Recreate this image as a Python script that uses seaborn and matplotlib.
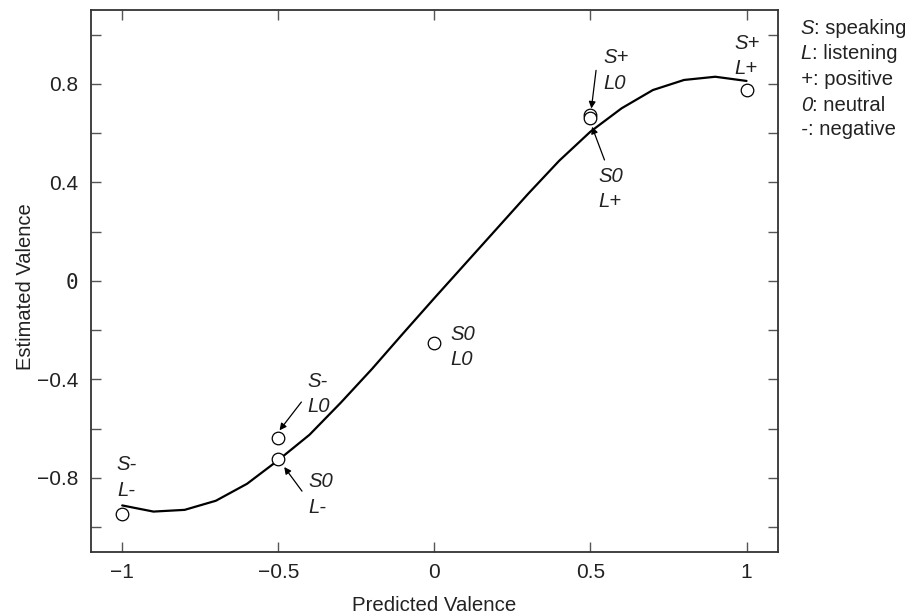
import matplotlib
matplotlib.use("Agg")
import matplotlib.pyplot as plt
import seaborn as sns
import pandas as pd

# ---- data ----
curve_x = [-1.0, -0.9, -0.8, -0.7, -0.6, -0.5, -0.4, -0.3, -0.2, -0.1, 0.0,
           0.1, 0.2, 0.3, 0.4, 0.5, 0.6, 0.7, 0.8, 0.9, 1.0]
curve_y = [-0.912, -0.937, -0.930, -0.893, -0.824, -0.728, -0.625, -0.495, -0.358,
           -0.213, -0.070, 0.071, 0.212, 0.353, 0.488, 0.606, 0.701, 0.775,
           0.816, 0.829, 0.812]

point_labels = ["S-\nL-", "S-\nL0", "S0\nL-", "S0\nL0", "S+\nL0", "S0\nL+", "S+\nL+"]
point_x = [-1.0, -0.5, -0.5, 0.0, 0.5, 0.5, 1.0]
point_y = [-0.948, -0.637, -0.723, -0.252, 0.674, 0.660, 0.775]

x_ticks = [-1, -0.5, 0, 0.5, 1]
x_ticklabels = ["\u22121", "\u22120.5", "0", "0.5", "1"]
y_ticks = [-0.8, -0.4, 0, 0.4, 0.8]
y_ticklabels = ["\u22120.8", "\u22120.4", "0", "0.4", "0.8"]
y_minor = [-1.0, -0.6, -0.2, 0.2, 0.6, 1.0]

legend_keys = ["S", "L", "+", "0", "-"]
legend_vals = [": speaking", ": listening", ": positive", ": neutral", ": negative"]

# ---- plotting ----
sns.set_theme(style="ticks")
plt.rcParams['font.family'] = ['Liberation Sans', 'DejaVu Sans']

fig = plt.figure(figsize=(9.11, 6.15), dpi=100)
ax = fig.add_axes([0.0999, 0.1029, 0.8537 - 0.0999, 0.9837 - 0.1029])

curve_df = pd.DataFrame({"x": curve_x, "y": curve_y})
pts_df = pd.DataFrame({"x": point_x, "y": point_y, "label": point_labels})

sns.lineplot(data=curve_df, x="x", y="y", ax=ax, color="black", linewidth=1.6,
             sort=False)
sns.scatterplot(data=pts_df, x="x", y="y", ax=ax, s=82, facecolor="white",
                edgecolor="black", linewidth=0.9, zorder=3)

ax.set_xlim(-1.1, 1.1)
ax.set_ylim(-1.1, 1.1)

ax.set_xticks(x_ticks)
ax.set_xticklabels(x_ticklabels)
ax.set_yticks(y_ticks)
ax.set_yticklabels(y_ticklabels)
ax.set_yticks(y_minor, minor=True)
for lab in ax.get_yticklabels():
    if lab.get_text() == "0":
        lab.set_fontfamily("DejaVu Sans Mono")

ax.tick_params(axis="both", which="both", direction="in", length=7, width=1,
               color="#555555", top=True, right=True, labelsize=15,
               labelcolor="#222222")
ax.tick_params(axis="x", pad=8)
ax.tick_params(axis="y", pad=9)

for sp in ax.spines.values():
    sp.set_visible(True)
    sp.set_linewidth(1.3)
    sp.set_color("#333333")

ax.set_xlabel("Predicted Valence", fontsize=14.7, color="#222222", labelpad=10)
ax.set_ylabel("Estimated Valence", fontsize=14.5, color="#222222")
ax.yaxis.set_label_coords(-0.0816, 0.489)

# text annotations near points (positions in data coordinates)
text_pos = {
    "S-\nL-": (-1.017, -0.799),
    "S-\nL0": (-0.408, -0.459),
    "S0\nL-": (-0.405, -0.868),
    "S0\nL0": (0.051, -0.268),
    "S+\nL0": (0.542, 0.854),
    "S0\nL+": (0.525, 0.374),
    "S+\nL+": (0.960, 0.914),
}
for lab in point_labels:
    tx, ty = text_pos[lab]
    ax.text(tx, ty, lab, fontsize=14.6, style="italic", ha="left", va="center",
            linespacing=1.42, color="#222222")

# arrows: (label, tail, head offset from point)
arrows = [
    ("S-\nL0", (-0.426, -0.492), (0.004, 0.030)),
    ("S0\nL-", (-0.424, -0.854), (0.019, -0.033)),
    ("S+\nL0", (0.518, 0.855), (0.003, 0.026)),
    ("S0\nL+", (0.545, 0.491), (0.005, -0.034)),
]
for lab, tail, off in arrows:
    i = point_labels.index(lab)
    head = (point_x[i] + off[0], point_y[i] + off[1])
    ax.annotate("", xy=head, xytext=tail,
                arrowprops=dict(arrowstyle="-|>", color="black", lw=0.9,
                                mutation_scale=10, shrinkA=0, shrinkB=0))

# key on the right
ys = [0.954, 0.913, 0.871, 0.829, 0.790]
for k, v, yy in zip(legend_keys, legend_vals, ys):
    t = fig.text(0.879, yy, k, fontsize=14.6, style="italic", va="center",
                 ha="left", color="#222222")
    ax.annotate(v, xy=(1, 0.5), xycoords=t, va="center", ha="left",
                fontsize=14.6, color="#222222", annotation_clip=False)

fig.savefig("out.png", dpi=100)
